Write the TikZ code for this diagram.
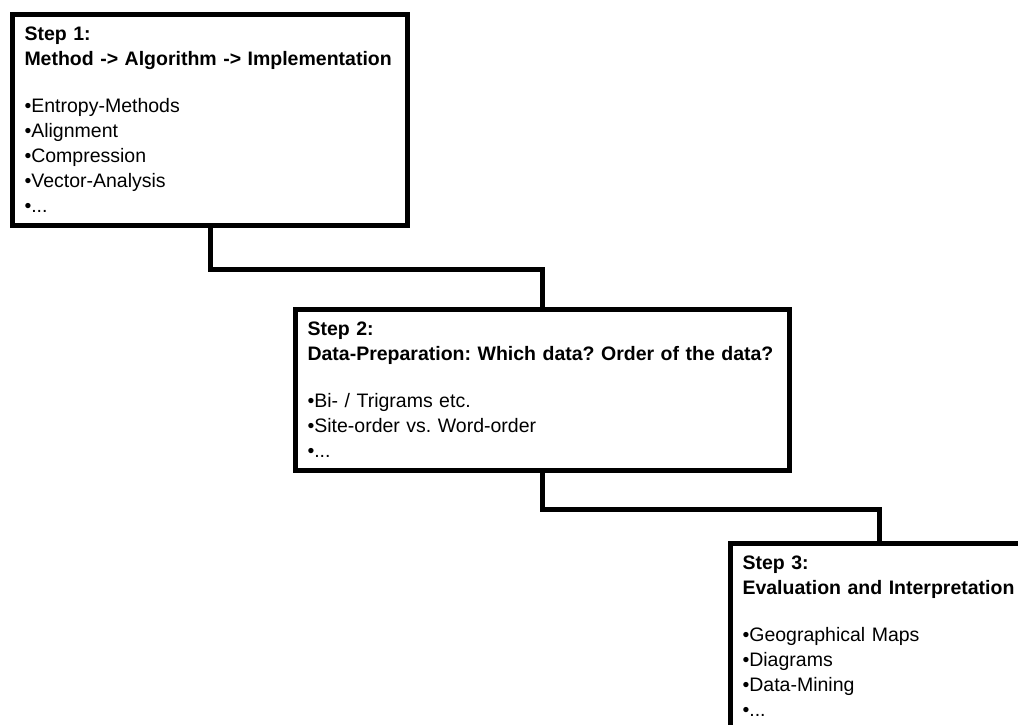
\documentclass[tikz,border=0pt]{standalone}
\usepackage{fontspec}
\setmainfont{Liberation Sans}
\usetikzlibrary{positioning}
\frenchspacing
\newcommand{\boxfont}{\fontsize{19.5pt}{25pt}\selectfont}
\newcommand{\boxtopgap}{\rule{0pt}{26pt}}
\newcommand{\boxbotgap}{\rule[-13pt]{0pt}{13pt}}
\tikzset{
  stepbox/.style={draw=black,line width=5pt,anchor=north west,align=left,
    inner xsep=12pt,inner ysep=0pt,font=\boxfont},
  link/.style={draw=black,line width=5pt}
}
\begin{document}
\begin{tikzpicture}[x=1pt,y=1pt]
  \useasboundingbox (0,0) rectangle (1018,725);
  \clip (0,0) rectangle (1018,725);
  % the three steps
  \node[stepbox,text width=371pt] (s1) at (10,713)
    {\boxtopgap\textbf{Step 1:}\\ \textbf{Method -> Algorithm -> Implementation}\\[22pt]
     •Entropy-Methods\\ •Alignment\\ •Compression\\ •Vector-Analysis\\ •...\boxbotgap};
  \node[stepbox,text width=470pt] (s2) at (293,418)
    {\boxtopgap\textbf{Step 2:}\\ \textbf{Data-Preparation: Which data? Order of the data?}\\[22pt]
     •Bi- / Trigrams etc.\\ •Site-order vs. Word-order\\ •...\boxbotgap};
  \node[stepbox,text width=274pt] (s3) at (728,184)
    {\boxtopgap\textbf{Step 3:}\\ \textbf{Evaluation and Interpretation}\\[22pt]
     •Geographical Maps\\ •Diagrams\\ •Data-Mining\\ •...\boxbotgap};
  % connectors
  \draw[link] (s1.south) -- ++(0,-42) -| (s2.north);
  \draw[link] (s2.south) -- ++(0,-37) -| (s3.north);
\end{tikzpicture}
\end{document}
